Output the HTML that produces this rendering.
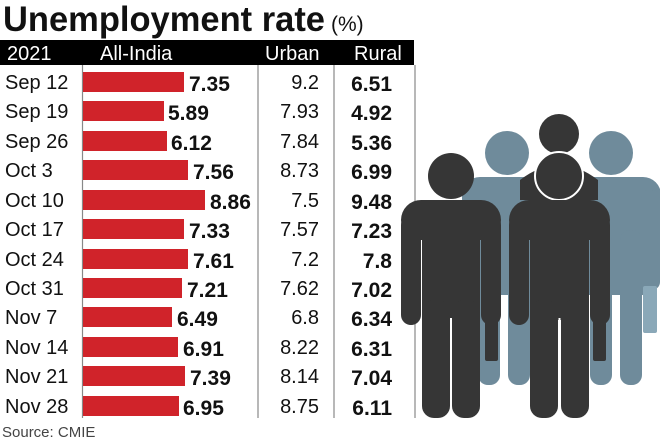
<!DOCTYPE html>
<html><head><meta charset="utf-8"><style>
body{margin:0;background:#fff}
svg{display:block}
text{font-family:"Liberation Sans","DejaVu Sans",sans-serif}
</style></head><body>
<svg width="660" height="440" viewBox="0 0 660 440" xmlns="http://www.w3.org/2000/svg">
<text x="3" y="31" font-size="35" font-weight="bold" fill="#111" textLength="322" lengthAdjust="spacingAndGlyphs">Unemployment rate</text>
<text x="331" y="31" font-size="21" fill="#111">(%)</text>
<rect x="0" y="40" width="414" height="25" fill="#000"/>
<g fill="#fff" font-size="20">
<text x="7" y="60">2021</text><text x="100" y="60">All-India</text><text x="265" y="60">Urban</text><text x="354" y="60">Rural</text>
</g>
<g stroke="#888" stroke-width="1.2">
<line x1="82.5" y1="65" x2="82.5" y2="418"/><line x1="258" y1="65" x2="258" y2="418"/><line x1="334" y1="65" x2="334" y2="418"/><line x1="415" y1="65" x2="415" y2="418"/>
</g>
<g font-size="20" fill="#111">
<text x="5" y="89">Sep 12</text><text x="5" y="118">Sep 19</text><text x="5" y="148">Sep 26</text><text x="5" y="177">Oct 3</text><text x="5" y="207">Oct 10</text><text x="5" y="236">Oct 17</text><text x="5" y="266">Oct 24</text><text x="5" y="295">Oct 31</text><text x="5" y="324">Nov 7</text><text x="5" y="354">Nov 14</text><text x="5" y="383">Nov 21</text><text x="5" y="413">Nov 28</text>
</g>
<g fill="#d0232a">
<rect x="83" y="72" width="101" height="20"/><rect x="83" y="101" width="81" height="20"/><rect x="83" y="131" width="84" height="20"/><rect x="83" y="160" width="105" height="20"/><rect x="83" y="190" width="122" height="20"/><rect x="83" y="219" width="101" height="20"/><rect x="83" y="249" width="105" height="20"/><rect x="83" y="278" width="99" height="20"/><rect x="83" y="307" width="89" height="20"/><rect x="83" y="337" width="95" height="20"/><rect x="83" y="366" width="102" height="20"/><rect x="83" y="396" width="96" height="20"/>
</g>
<g font-size="21" font-weight="bold" fill="#111">
<text x="189" y="91">7.35</text><text x="168" y="120">5.89</text><text x="171" y="150">6.12</text><text x="193" y="179">7.56</text><text x="210" y="209">8.86</text><text x="189" y="238">7.33</text><text x="193" y="268">7.61</text><text x="187" y="297">7.21</text><text x="177" y="326">6.49</text><text x="183" y="356">6.91</text><text x="190" y="385">7.39</text><text x="183" y="415">6.95</text>
</g>
<g font-size="20" fill="#111" text-anchor="end">
<text x="319" y="89">9.2</text><text x="319" y="118">7.93</text><text x="319" y="148">7.84</text><text x="319" y="177">8.73</text><text x="319" y="207">7.5</text><text x="319" y="236">7.57</text><text x="319" y="266">7.2</text><text x="319" y="295">7.62</text><text x="319" y="324">6.8</text><text x="319" y="354">8.22</text><text x="319" y="383">8.14</text><text x="319" y="413">8.75</text>
</g>
<g font-size="21" font-weight="bold" fill="#111" text-anchor="end">
<text x="392" y="91">6.51</text><text x="392" y="120">4.92</text><text x="392" y="150">5.36</text><text x="392" y="179">6.99</text><text x="392" y="209">9.48</text><text x="392" y="238">7.23</text><text x="392" y="268">7.8</text><text x="392" y="297">7.02</text><text x="392" y="326">6.34</text><text x="392" y="356">6.31</text><text x="392" y="385">7.04</text><text x="392" y="415">6.11</text>
</g>
<text x="2" y="437" font-size="15" fill="#444">Source: CMIE</text>
<g fill="#6f8b9b">
<circle cx="507" cy="153" r="22"/><circle cx="611" cy="153" r="22"/>
<rect x="462" y="177" width="120" height="40" rx="18"/><rect x="565" y="177" width="96" height="40" rx="18"/>
<rect x="480" y="185" width="88" height="110"/><rect x="585" y="185" width="70" height="110"/>
<rect x="478" y="230" width="22" height="155" rx="10"/><rect x="508" y="230" width="22" height="155" rx="10"/>
<rect x="590" y="230" width="22" height="155" rx="10"/><rect x="620" y="230" width="22" height="155" rx="10"/>
<rect x="641" y="190" width="19" height="100" rx="8"/>
<rect x="643" y="286" width="14" height="47" rx="2" fill="#8aa8b8"/>
</g>
<g fill="#363636">
<circle cx="559" cy="134" r="20"/>
<path d="M520 180 Q559 150 598 180 L598 200 L520 200Z"/>
<circle cx="451" cy="176" r="23"/>
<rect x="401" y="200" width="100" height="40" rx="20"/>
<rect x="401" y="215" width="20" height="110" rx="10"/><rect x="481" y="215" width="20" height="110" rx="10"/>
<rect x="422" y="210" width="58" height="110"/>
<rect x="422" y="300" width="28" height="118" rx="12"/><rect x="452" y="300" width="28" height="118" rx="12"/>
<rect x="485" y="313" width="13" height="48" rx="2"/>
<circle cx="559" cy="176" r="24" stroke="#fff" stroke-width="2"/>
<rect x="509" y="200" width="101" height="40" rx="20"/>
<rect x="509" y="215" width="20" height="110" rx="10"/><rect x="590" y="215" width="20" height="110" rx="10"/>
<rect x="530" y="210" width="59" height="110"/>
<rect x="530" y="300" width="28" height="118" rx="12"/><rect x="561" y="300" width="28" height="118" rx="12"/>
<rect x="593" y="313" width="13" height="48" rx="2"/>
</g>
<g stroke="#fff" stroke-width="2"><line x1="451" y1="318" x2="451" y2="418"/><line x1="559.5" y1="318" x2="559.5" y2="418"/></g>
</svg>
</body></html>
